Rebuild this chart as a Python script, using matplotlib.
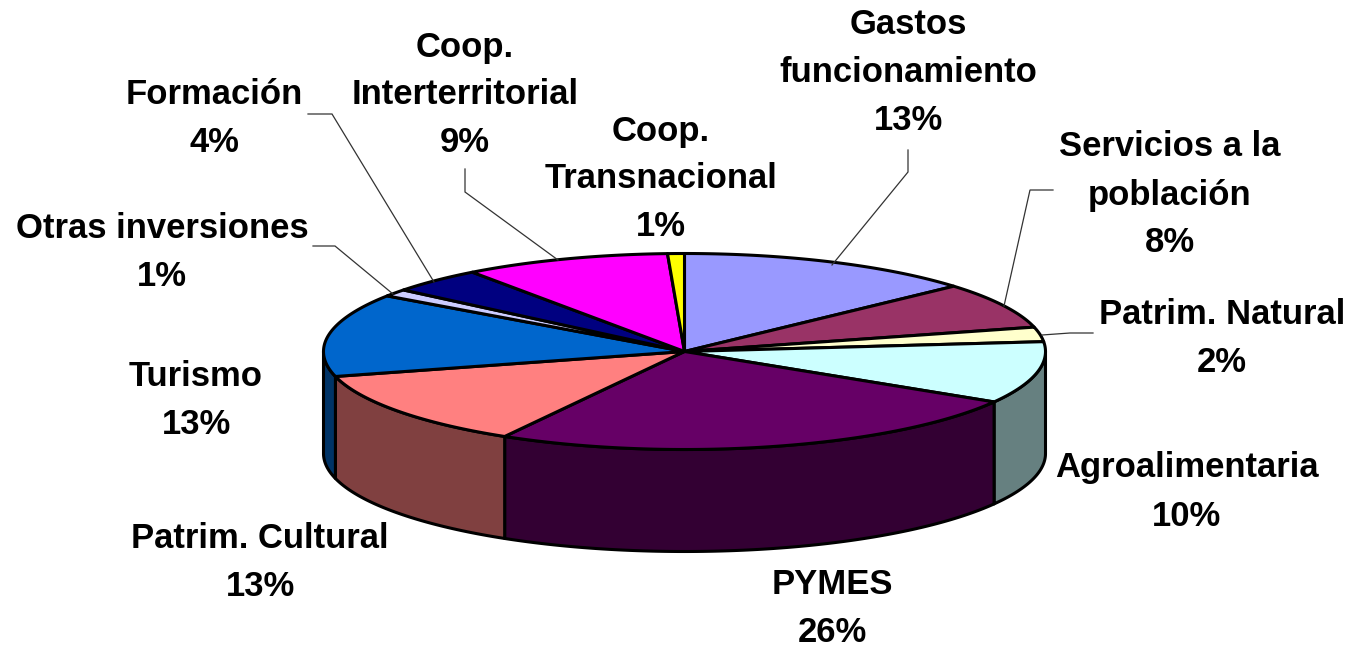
#!/usr/bin/env python

# numpy
import numpy as np

# matplotlib
import matplotlib
matplotlib.use("Agg")
import matplotlib.pyplot as plt

# slices clockwise from 12 o'clock, shares
names = ["Gastos funcionamiento", "Servicios a la población", "Patrim. Natural",
         "Agroalimentaria", "PYMES", "Patrim. Cultural", "Turismo",
         "Otras inversiones", "Formación", "Coop. Interterritorial",
         "Coop. Transnacional"]
shares = [13.4, 7.6, 2.4, 10.2, 24.7, 12.6, 13.7, 1.2, 4.2, 9.25, 0.75]
percents = ["13%", "8%", "2%", "10%", "26%", "13%", "13%", "1%", "4%", "9%", "1%"]

top_colors = ["#9999FF", "#993366", "#FFFFCC", "#CCFFFF", "#660066", "#FF8080",
              "#0066CC", "#CCCCFF", "#000080", "#FF00FF", "#FFFF00"]
side_colors = ["#4D4D80", "#4D1A33", "#808066", "#668080", "#330033", "#804040",
               "#003366", "#666680", "#000040", "#800080", "#808000"]

# label lines: centre x, then centre y of the first line
label_lines = [["Gastos", "funcionamiento", "13%"],
               ["Servicios a la", "población", "8%"],
               ["Patrim. Natural", "2%"],
               ["Agroalimentaria", "10%"],
               ["PYMES", "26%"],
               ["Patrim. Cultural", "13%"],
               ["Turismo", "13%"],
               ["Otras inversiones", "1%"],
               ["Formación", "4%"],
               ["Coop.", "Interterritorial", "9%"],
               ["Coop.", "Transnacional", "1%"]]
label_x = [908, 1170, 1222, 1187, 832, 260, 196, 162, 214, 465, 661]
label_y = [22, 144, 311, 465, 582, 535, 374, 225, 92, 44, 128]

# leader lines for the labels that sit away from their slice
leaders = [([908, 908, 832], [150, 172, 265]),
           ([1053, 1030, 1004], [190, 190, 306]),
           ([1093, 1070, 1042], [333, 333, 335]),
           ([313, 335, 393], [246, 246, 294]),
           ([308, 332, 434], [114, 114, 282]),
           ([465, 465, 558], [169, 192, 260])]

# pie geometry in pixels
cx, cy = 684.5, 351.5
rx, ry = 361, 98
depth = 102
line_h = 48
font_px = 34.7

plt.rcParams["font.family"] = ["Liberation Sans", "DejaVu Sans"]


def rim(a, b):
    """
    Points on the top ellipse between two angles (degrees, clockwise from 12 o'clock)
    """
    t = np.radians(np.linspace(a, b, max(int(abs(b - a) * 2), 2)))
    return cx + rx * np.sin(t), cy - ry * np.cos(t)


def main():
    fig = plt.figure(figsize=(13.5, 6.46), dpi=100)
    ax = fig.add_axes([0, 0, 1, 1])
    ax.set_xlim(0, 1350)
    ax.set_ylim(646, 0)
    ax.axis("off")

    edges = np.cumsum([0] + shares) / sum(shares) * 360

    # the side wall only shows on the front half
    for i in range(len(shares)):
        a = max(edges[i], 90)
        b = min(edges[i + 1], 270)
        if a >= b:
            continue
        x, y = rim(a, b)
        xs = np.concatenate([x, x[::-1]])
        ys = np.concatenate([y, y[::-1] + depth])
        ax.fill(xs, ys, facecolor=side_colors[i], edgecolor="black",
                linewidth=2.2, joinstyle="round")

    # the top face
    for i in range(len(shares)):
        x, y = rim(edges[i], edges[i + 1])
        xs = np.concatenate([[cx], x])
        ys = np.concatenate([[cy], y])
        ax.fill(xs, ys, facecolor=top_colors[i], edgecolor="black",
                linewidth=2.2, joinstyle="round")

    for xs, ys in leaders:
        ax.plot(xs, ys, color="#333333", linewidth=0.9, solid_joinstyle="miter")

    # baseline sits about half a cap height under the line centre
    for lines, x, y in zip(label_lines, label_x, label_y):
        for j, line in enumerate(lines):
            ax.text(x, y + j * line_h + 12.5, line, ha="center", va="baseline",
                    fontsize=font_px * 0.72, fontweight="bold", color="black")

    plt.savefig("out.png", dpi=100)


if __name__ == "__main__":
    main()
